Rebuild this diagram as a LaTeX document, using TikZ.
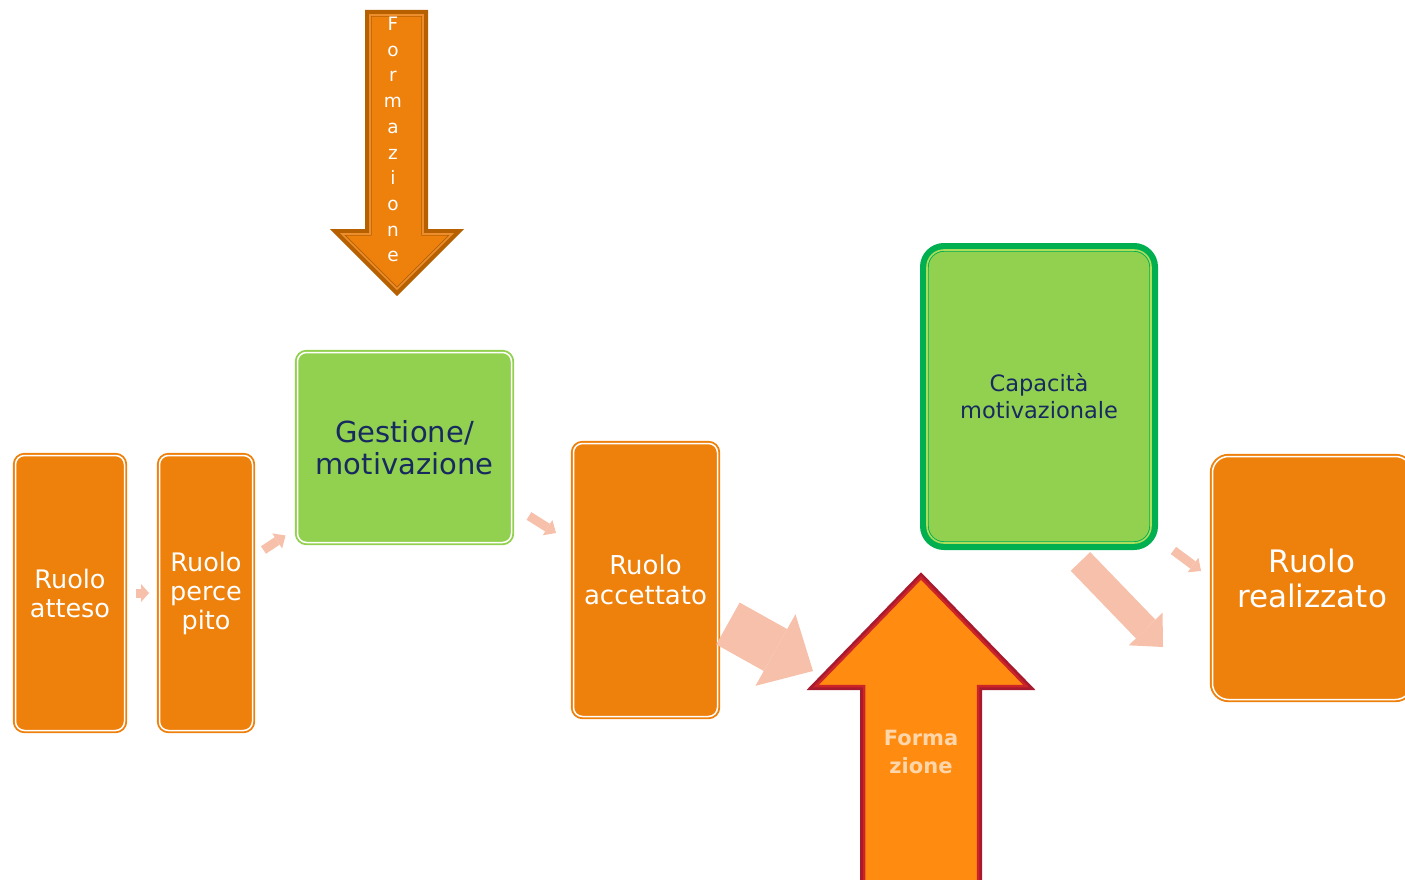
\documentclass[tikz,border=0pt]{standalone}
\usepackage{fontspec}
\setmainfont{DejaVu Sans}
\usetikzlibrary{arrows.meta,calc}
\definecolor{arancio}{RGB}{238,128,12}
\definecolor{arancioacceso}{RGB}{255,140,16}
\definecolor{pesca}{RGB}{246,192,170}
\definecolor{verde}{RGB}{146,208,80}
\definecolor{verdescuro}{RGB}{0,176,80}
\definecolor{verdelinea}{RGB}{172,222,92}
\definecolor{blunotte}{RGB}{22,42,95}
\definecolor{bruno}{RGB}{182,96,0}
\definecolor{brunochiaro}{RGB}{236,142,46}
\definecolor{rosso}{RGB}{168,26,46}
\definecolor{rossovivo}{RGB}{205,36,40}
\tikzset{
  ruolo/.style={rectangle, rounded corners=9pt, fill=arancio, draw=arancio, line width=1.9pt,
    double=white, double distance=1.5pt, text=white, align=center, inner sep=0pt},
  motiv/.style={ruolo, fill=verde, draw=verde, text=blunotte},
  capac/.style={rectangle, rounded corners=17pt, preaction={draw=verdescuro, line width=14pt},
    fill=verde, draw=verdescuro, line width=0.9pt, double=verdelinea, double distance=1.6pt,
    text=blunotte, align=center, inner sep=0pt},
  freccia/.style n args={3}{draw=pesca, line width=#1, -{Triangle[width=#2, length=#3, line width=0pt]}}
}

\begin{document}
\begin{tikzpicture}[x=1pt, y=-1pt]
		%%%%% START %%%%%
		\useasboundingbox (0,0) rectangle (1405,880);
		
		% boxes
		\node[ruolo, minimum width=109pt, minimum height=275pt, font=\fontsize{25.5}{29}\selectfont] (atteso) at (70,593) {Ruolo\\atteso};
		\node[ruolo, minimum width=93pt, minimum height=275pt, font=\fontsize{25.5}{29}\selectfont] (percepito) at (206,593) {Ruolo\\perce\\pito};
		\node[motiv, minimum width=214pt, minimum height=190pt, font=\fontsize{29}{32}\selectfont] (gestione) at (404.5,447.5) {Gestione/\\motivazione};
		\node[ruolo, minimum width=144pt, minimum height=273pt, font=\fontsize{26}{30}\selectfont] (accettato) at (645.5,580) {Ruolo\\accettato};
		\node[capac, minimum width=224pt, minimum height=293pt, font=\fontsize{22.5}{27}\selectfont] (capacita) at (1039,396.5) {Capacità\\motivazionale};
		\node[ruolo, rounded corners=16pt, minimum width=199pt, minimum height=243pt, font=\fontsize{31}{35}\selectfont] (realizzato) at (1312,578) {Ruolo\\realizzato};
		
		% down arrow
		\draw[preaction={draw=bruno, line width=10pt}, fill=arancio, draw=bruno, line width=0.8pt,
		  double=brunochiaro, double distance=1.6pt, line join=miter]
		  (370,15) -- (423,15) -- (423,234) -- (452,234) -- (397,289) -- (342,234) -- (370,234) -- cycle;
		\node[text=white, align=center, inner sep=0pt, font=\fontsize{18.5}{25.7}\selectfont] (formgiu) at (393,139.6) {F\\o\\r\\m\\a\\z\\i\\o\\n\\e};
		
		% small connectors
		\draw[freccia={9pt}{18pt}{8pt}] ($(atteso.east)+(10.5,0)$) -- ($(percepito.west)+(-9.5,0)$);
		\draw[freccia={9pt}{18pt}{10pt}] ($(percepito.east)+(10,-43)$) -- ($(gestione.south west)+(-11,-8)$);
		\draw[freccia={9pt}{18pt}{10pt}] ($(gestione.south east)+(16.5,-27.5)$) -- ($(accettato.west)+(-16.5,-47)$);
		\draw[freccia={9pt}{18pt}{10pt}] ($(capacita.south east)+(22,7)$) -- ($(realizzato.west)+(-10.5,-7)$);
		
		% big connectors
		\coordinate (sinistra) at (813,671);
		\coordinate (vuoto) at (1163,647);
		\draw[freccia={48pt}{82pt}{43pt}] ($(accettato.east)+(9.5,43.5)$) -- (sinistra);
		\draw[freccia={27pt}{47pt}{25pt}] ($(capacita.south east)+(-71,18)$) -- (vuoto);
		
		% up arrow
		\draw[preaction={draw=rosso, line width=8pt}, fill=arancioacceso, draw=rossovivo, line width=2.5pt, line join=miter]
		  (864,895) -- (864,686) -- (816,686) -- (921,578) -- (1026,686) -- (978,686) -- (978,895) -- cycle;
		\node[text={rgb,255:red,255;green,214;blue,170}, align=center, inner sep=0pt, font=\bfseries\fontsize{21}{28}\selectfont] (formsu) at (921,752) {Forma\\zione};
		
		%%%%% END %%%%%
\end{tikzpicture}
\end{document}
